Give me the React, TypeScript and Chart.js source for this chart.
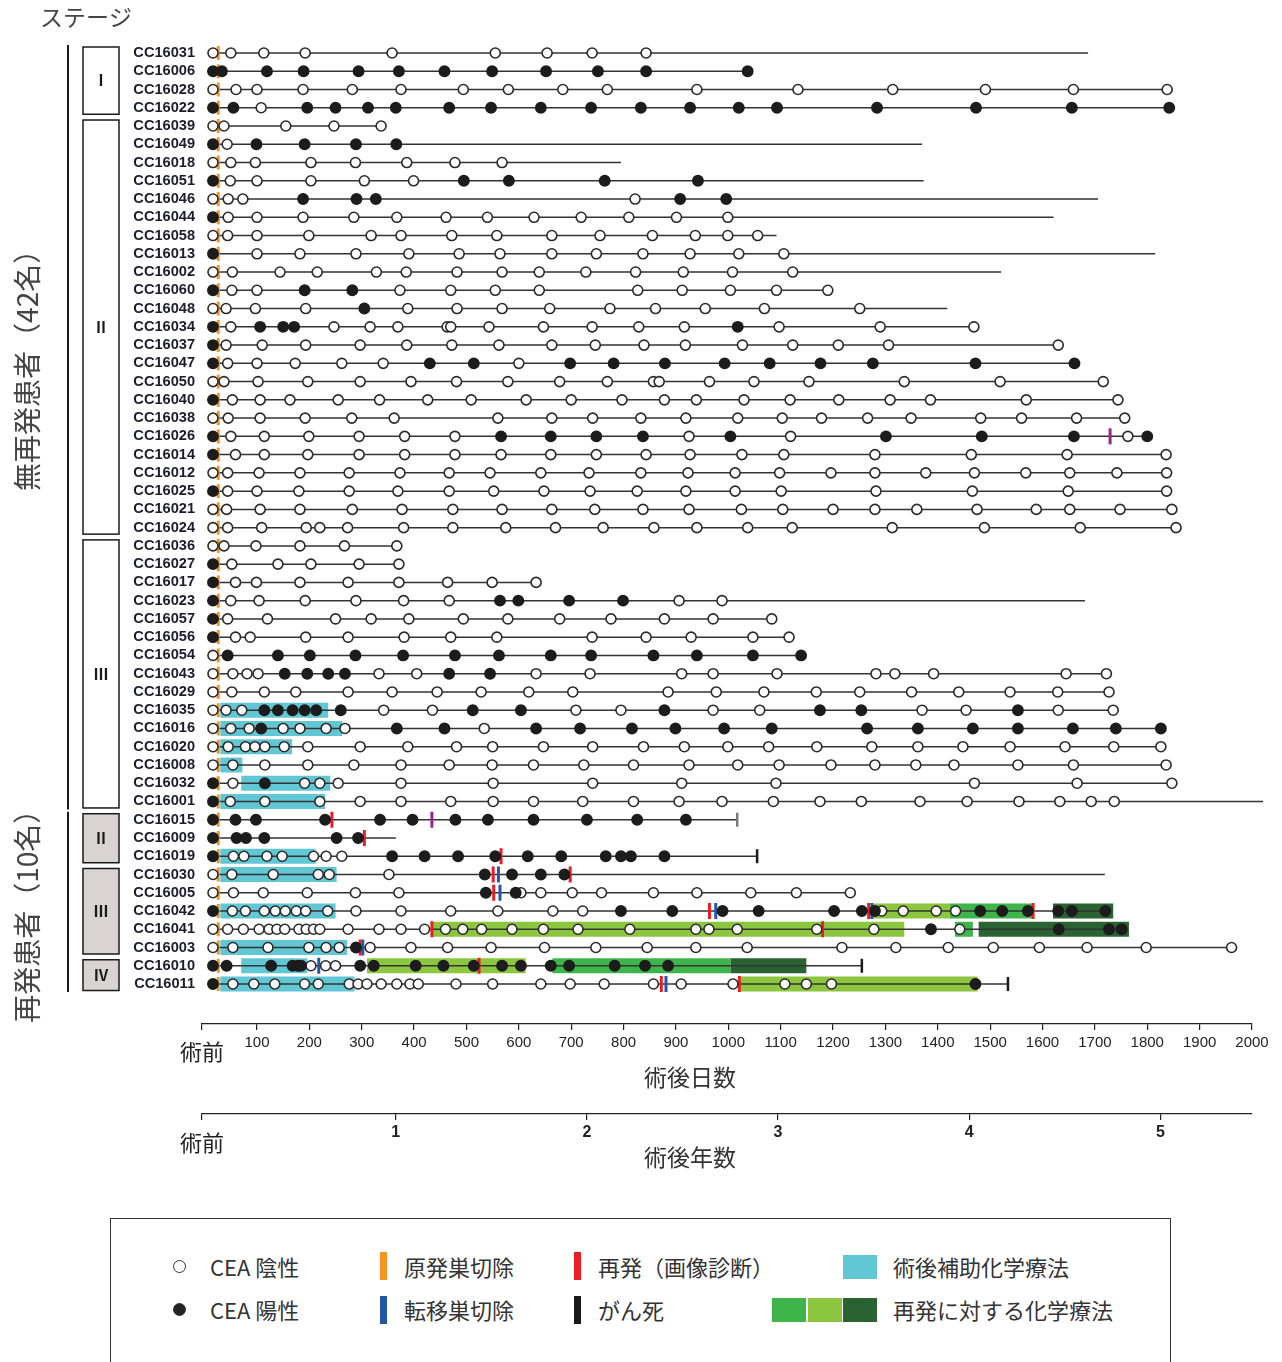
import React, { useEffect, useRef } from 'react';
import { Chart, registerables } from 'chart.js';

Chart.register(...registerables);

const CJK = "'Noto Sans CJK JP', 'Noto Sans', sans-serif";
const LATIN = "'Liberation Sans', Arial, sans-serif";

const patients = [
  'CC16031', 'CC16006', 'CC16028', 'CC16022', 'CC16039', 'CC16049', 'CC16018', 'CC16051', 'CC16046',
  'CC16044', 'CC16058', 'CC16013', 'CC16002', 'CC16060', 'CC16048', 'CC16034', 'CC16037', 'CC16047',
  'CC16050', 'CC16040', 'CC16038', 'CC16026', 'CC16014', 'CC16012', 'CC16025', 'CC16021', 'CC16024',
  'CC16036', 'CC16027', 'CC16017', 'CC16023', 'CC16057', 'CC16056', 'CC16054', 'CC16043', 'CC16029',
  'CC16035', 'CC16016', 'CC16020', 'CC16008', 'CC16032', 'CC16001',
  'CC16015', 'CC16009', 'CC16019', 'CC16030', 'CC16005', 'CC16042', 'CC16041', 'CC16003', 'CC16010', 'CC16011',
];

const preOpDay = 16;
const surgeryDay = 26;

const followUpEnd = [
  1687, 1037, 1838, 1842, 337, 1370, 795, 1373, 1706, 1621, 1092, 1815, 1521, 1190, 1418, 1469, 1630, 1661,
  1716, 1744, 1757, 1800, 1836, 1837, 1837, 1847, 1855, 367, 371, 633, 1681, 1083, 1116, 1139, 1722, 1727,
  1735, 1826, 1826, 1836, 1847, 2021, 1017, 365, 1055, 1719, 1233, 1720, 1751, 1961, 1255, 1534,
];

const ceaNegative: number[][] = [
  [16, 50, 113, 192, 358, 555, 654, 740, 843],
  [],
  [16, 60, 100, 188, 282, 375, 494, 580, 684, 769, 940, 1133, 1314, 1491, 1659, 1838],
  [108],
  [16, 37, 155, 247, 337],
  [43],
  [16, 50, 97, 203, 288, 386, 478, 568],
  [49, 100, 203, 305, 399],
  [16, 45, 73, 822],
  [45, 100, 188, 285, 367, 461, 540, 629, 719, 810, 901, 999],
  [16, 44, 100, 199, 318, 375, 472, 558, 663, 755, 855, 937, 999, 1056],
  [100, 182, 289, 390, 486, 564, 663, 748, 837, 927, 1020, 1106],
  [16, 53, 144, 215, 328, 385, 482, 568, 639, 728, 823, 914, 1008, 1123],
  [52, 100, 373, 470, 555, 639, 827, 912, 1004, 1092, 1190],
  [16, 41, 97, 193, 388, 482, 568, 659, 774, 861, 956, 1069, 1251],
  [50, 247, 316, 369, 463, 470, 543, 647, 740, 829, 916, 1097, 1290, 1469],
  [41, 110, 193, 297, 386, 472, 562, 663, 746, 839, 918, 1027, 1123, 1210, 1306, 1630],
  [44, 100, 173, 262, 341, 600],
  [16, 37, 102, 197, 297, 394, 481, 579, 678, 769, 857, 868, 964, 1049, 1154, 1336, 1519, 1716],
  [53, 106, 163, 255, 334, 426, 509, 614, 700, 797, 878, 939, 1030, 1118, 1211, 1309, 1386, 1569, 1744],
  [16, 45, 106, 192, 281, 362, 560, 663, 741, 833, 919, 1018, 1103, 1178, 1266, 1349, 1482, 1560, 1665, 1757],
  [50, 114, 199, 295, 382, 478, 925, 1119, 1763],
  [59, 114, 197, 295, 382, 478, 566, 661, 748, 843, 927, 1026, 1106, 1280, 1464, 1647, 1836],
  [16, 44, 104, 182, 276, 373, 467, 545, 642, 734, 833, 923, 1013, 1098, 1196, 1280, 1377, 1470, 1568, 1652, 1742, 1837],
  [44, 100, 180, 276, 369, 467, 552, 648, 736, 826, 919, 1013, 1101, 1282, 1466, 1649, 1837],
  [16, 42, 106, 182, 282, 377, 474, 568, 663, 745, 837, 925, 1025, 1104, 1200, 1280, 1360, 1475, 1588, 1652, 1748, 1847],
  [16, 44, 109, 194, 220, 273, 380, 474, 575, 670, 761, 858, 940, 1037, 1122, 1313, 1489, 1672, 1855],
  [16, 37, 98, 182, 267, 367],
  [52, 140, 203, 295, 371],
  [59, 99, 182, 274, 371, 464, 549, 633],
  [50, 104, 192, 289, 380, 467, 906, 988],
  [44, 120, 250, 318, 390, 494, 579, 678, 776, 878, 971, 1083],
  [59, 87, 193, 274, 381, 470, 558, 740, 843, 929, 1047, 1116],
  [16],
  [16, 54, 81, 102, 333, 405, 633, 736, 911, 971, 1093, 1282, 1318, 1392, 1645, 1722],
  [16, 52, 114, 174, 274, 358, 444, 528, 619, 703, 885, 977, 1068, 1168, 1251, 1350, 1440, 1538, 1629, 1727],
  [16, 41, 71, 342, 435, 709, 795, 971, 1060, 1370, 1454, 1630, 1735],
  [16, 50, 85, 150, 182, 232, 268, 534],
  [16, 45, 78, 96, 115, 152, 197, 297, 388, 481, 550, 647, 741, 838, 916, 999, 1077, 1169, 1274, 1362, 1448, 1538, 1643, 1736, 1826],
  [16, 54, 115, 197, 285, 375, 467, 549, 628, 724, 819, 925, 1018, 1097, 1196, 1280, 1358, 1431, 1553, 1659, 1836],
  [54, 191, 220, 255, 375, 551, 741, 911, 1091, 1470, 1666, 1847],
  [49, 115, 220, 297, 375, 470, 551, 628, 722, 819, 906, 988, 1086, 1175, 1254, 1366, 1456, 1555, 1633, 1693, 1737, 2021],
  [],
  [],
  [55, 75, 119, 148, 208, 232, 262],
  [16, 52, 131, 217, 238, 352],
  [16, 55, 112, 196, 288, 371, 604, 642, 702, 758, 857, 940, 1043, 1130, 1233],
  [53, 78, 114, 135, 154, 175, 193, 235, 289, 375, 470, 560, 665, 722, 1293, 1334, 1397, 1434],
  [16, 44, 74, 104, 123, 138, 153, 180, 194, 208, 220, 274, 333, 375, 420, 460, 493, 529, 587, 647, 713, 812, 938, 963, 1017, 1169, 1278, 1442],
  [16, 54, 121, 199, 232, 257, 316, 394, 464, 547, 649, 747, 845, 938, 1036, 1217, 1320, 1420, 1506, 1594, 1685, 1798, 1961],
  [203, 231, 250],
  [54, 94, 134, 191, 217, 276, 293, 310, 337, 367, 392, 408, 480, 550, 642, 698, 763, 857, 910, 1009, 1108, 1149, 1197],
];

const ceaPositive: number[][] = [
  [],
  [16, 33, 119, 189, 294, 371, 458, 549, 652, 751, 843, 1037],
  [],
  [16, 55, 196, 250, 312, 365, 467, 547, 642, 738, 833, 927, 1020, 1093, 1284, 1473, 1656, 1842],
  [],
  [16, 99, 191, 289, 366],
  [],
  [16, 495, 581, 764, 942],
  [188, 290, 327, 908, 996],
  [16],
  [],
  [16],
  [],
  [16, 191, 282],
  [305],
  [16, 106, 150, 171, 1018],
  [16],
  [16, 430, 514, 698, 781, 879, 993, 1079, 1176, 1276, 1472, 1661],
  [],
  [16],
  [],
  [16, 566, 661, 748, 837, 1004, 1301, 1484, 1660, 1800],
  [16],
  [],
  [16],
  [],
  [],
  [],
  [16],
  [16],
  [16, 564, 599, 696, 799],
  [16],
  [16],
  [44, 140, 201, 288, 379, 478, 562, 661, 738, 857, 940, 1047, 1139],
  [153, 196, 236, 268, 467, 545],
  [],
  [114, 140, 168, 191, 213, 260, 512, 604, 878, 1175, 1254, 1553],
  [108, 367, 458, 633, 717, 816, 899, 992, 1083, 1265, 1362, 1467, 1553, 1658, 1740, 1826],
  [],
  [],
  [16, 115],
  [16],
  [16, 59, 98, 230, 335, 397, 479, 541, 628, 730, 826, 919],
  [16, 61, 79, 114, 252, 293],
  [16, 358, 420, 484, 555, 617, 681, 766, 795, 814, 878],
  [535, 587, 642, 687],
  [537, 594],
  [16, 795, 893, 989, 1058, 1202, 1255, 1280, 1481, 1523, 1572, 1630, 1656, 1720],
  [1387, 1631, 1727, 1751],
  [289],
  [16, 42, 127, 168, 178, 184, 297, 323, 403, 456, 514, 568, 604, 661, 696, 783, 841, 885],
  [16, 1472],
];

// [row, startDay, endDay]
const adjuvantChemo: [number, number, number][] = [
  [36, 30, 236], [37, 30, 263], [38, 30, 167], [39, 30, 72], [40, 70, 240], [41, 30, 230],
  [44, 30, 212], [45, 30, 252], [47, 30, 250], [49, 30, 272], [50, 70, 196], [51, 30, 286],
];
const recurChemoLight: [number, number, number][] = [[47, 1273, 1422], [48, 436, 1336], [50, 310, 613], [51, 1022, 1476]];
const recurChemoMid: [number, number, number][] = [[47, 1422, 1582], [48, 1433, 1467], [50, 664, 1004]];
const recurChemoDark: [number, number, number][] = [[47, 1620, 1735], [48, 1478, 1765], [50, 1004, 1149]];

// [row, day]
const recurrenceMarks: [number, number][] = [
  [42, 243], [43, 305], [44, 566], [45, 551], [45, 698], [46, 552], [47, 964], [47, 1268], [47, 1582],
  [48, 434], [48, 1180], [49, 297], [50, 524], [51, 872], [51, 1021],
];
const metastasectomyMarks: [number, number][] = [[45, 561], [46, 564], [47, 976], [47, 1274], [49, 302], [50, 218], [51, 881]];
const otherMarks: [number, number][] = [[21, 1729], [42, 434]];
const deathMarks: [number, number][] = [[44, 1055], [50, 1255], [51, 1534]];
const censorMarks: [number, number][] = [[42, 1017]];

const dayTicks = [-5, 100, 200, 300, 400, 500, 600, 700, 800, 900, 1000, 1100, 1200, 1300, 1400, 1500, 1600, 1700, 1800, 1900, 2000];
const yearTicks = [-5, 365, 730, 1095, 1460, 1825];
const yearLabels = ['術前', '1', '2', '3', '4', '5'];

const stageBlocks = [
  { label: 'Ⅰ', from: 0, to: 3, recur: false },
  { label: 'Ⅱ', from: 4, to: 26, recur: false },
  { label: 'Ⅲ', from: 27, to: 41, recur: false },
  { label: 'Ⅱ', from: 42, to: 44, recur: true },
  { label: 'Ⅲ', from: 45, to: 49, recur: true },
  { label: 'Ⅳ', from: 50, to: 51, recur: true },
];
const groups = [
  { text: '無再発患者（42名）', from: 0, to: 41, labelRow: 17.0 },
  { text: '再発患者（10名）', from: 42, to: 51, labelRow: 46.9 },
];

const COLORS = {
  line: '#333333',
  open: '#ffffff',
  dotEdge: '#2a2a2a',
  filled: '#1c1c1c',
  orange: '#f7941d',
  red: '#ed1c24',
  blue: '#2257a8',
  purple: '#92278f',
  black: '#1a1a1a',
  gray: '#7a7a7a',
  cyan: '#62c7d4',
  light: '#8cc63f',
  mid: '#3db54a',
  dark: '#2a6332',
};

type P = { x: number; y: number };
const dotsFrom = (lists: number[][]): P[] => {
  const out: P[] = [];
  lists.forEach((days, row) => days.forEach((d) => out.push({ x: d, y: row })));
  return out;
};
const marksFrom = (list: [number, number][]): P[] => list.map(([row, d]) => ({ x: d, y: row }));
const segmentsFrom = (list: [number, number, number][]): P[] => {
  const out: P[] = [];
  list.forEach(([row, s, e]) => {
    out.push({ x: s, y: row }, { x: e, y: row }, { x: NaN, y: NaN });
  });
  return out;
};

const markerSet = (label: string, data: P[], color: string, radius: number, width: number) => ({
  label,
  data,
  showLine: false,
  pointStyle: 'line',
  pointRotation: 90,
  pointRadius: radius,
  pointBorderColor: color,
  pointBackgroundColor: color,
  pointBorderWidth: width,
  borderColor: color,
  clip: false,
});

const barSet = (label: string, list: [number, number, number][], color: string) => ({
  label,
  data: segmentsFrom(list),
  showLine: true,
  spanGaps: false,
  borderColor: color,
  borderWidth: 15,
  borderCapStyle: 'butt',
  pointRadius: 0,
  clip: false,
});

const decorPlugin = {
  id: 'decor',
  afterDraw(chart: any) {
    const ctx = chart.ctx as CanvasRenderingContext2D;
    const ys = chart.scales.y;
    ctx.save();
    ctx.fillStyle = '#444';
    ctx.font = `23px ${CJK}`;
    ctx.textAlign = 'left';
    ctx.textBaseline = 'middle';
    ctx.fillText('ステージ', 40, 17);

    // axis titles
    ctx.fillStyle = '#333';
    ctx.font = `23px ${CJK}`;
    ctx.textAlign = 'center';
    ctx.fillText('術後日数', 690, 1077);
    ctx.fillText('術後年数', 690, 1157);

    for (const b of stageBlocks) {
      const top = ys.getPixelForValue(b.from) - 6;
      const bottom = ys.getPixelForValue(b.to) + 6.5;
      ctx.fillStyle = b.recur ? '#d9d3d3' : '#ffffff';
      ctx.fillRect(83, top, 36, bottom - top);
      ctx.strokeStyle = '#1a1a1a';
      ctx.lineWidth = 1.5;
      ctx.strokeRect(83, top, 36, bottom - top);
      ctx.fillStyle = '#1a1a1a';
      ctx.font = `bold 15px ${CJK}`;
      ctx.textAlign = 'center';
      ctx.fillText(b.label, 101, (top + bottom) / 2);
    }

    for (const g of groups) {
      const top = ys.getPixelForValue(g.from) - 8;
      const bottom = ys.getPixelForValue(g.to) + 8;
      ctx.strokeStyle = '#1a1a1a';
      ctx.lineWidth = 2;
      ctx.beginPath();
      ctx.moveTo(68, top);
      ctx.lineTo(68, bottom);
      ctx.stroke();
      ctx.save();
      ctx.translate(27, ys.getPixelForValue(g.labelRow));
      ctx.rotate(-Math.PI / 2);
      ctx.fillStyle = '#444';
      ctx.font = `28px ${CJK}`;
      ctx.textAlign = 'center';
      ctx.textBaseline = 'middle';
      ctx.fillText(g.text, 0, 0);
      ctx.restore();
    }
    ctx.restore();
  },
};

export default function App() {
  const ref = useRef<HTMLCanvasElement | null>(null);

  useEffect(() => {
    if (!ref.current) return;
    Chart.defaults.font.family = LATIN;
    const rowLines: P[] = [];
    followUpEnd.forEach((end, row) => {
      rowLines.push({ x: preOpDay, y: row }, { x: end, y: row }, { x: NaN, y: NaN });
    });

    const chart = new Chart(ref.current, {
      type: 'scatter',
      data: {
        datasets: [
          {
            label: 'CEA 陽性',
            data: dotsFrom(ceaPositive),
            pointRadius: 5.2,
            pointBackgroundColor: COLORS.filled,
            pointBorderColor: COLORS.filled,
            pointBorderWidth: 1.5,
            showLine: false,
            clip: false,
          },
          {
            label: 'CEA 陰性',
            data: dotsFrom(ceaNegative),
            pointRadius: 5,
            pointBackgroundColor: COLORS.open,
            pointBorderColor: COLORS.dotEdge,
            pointBorderWidth: 1.6,
            showLine: false,
            clip: false,
          },
          markerSet('原発巣切除', patients.map((_, i) => ({ x: surgeryDay, y: i })), COLORS.orange, 7, 3),
          markerSet('再発（画像診断）', marksFrom(recurrenceMarks), COLORS.red, 8, 3),
          markerSet('転移巣切除', marksFrom(metastasectomyMarks), COLORS.blue, 8, 3),
          markerSet('other', marksFrom(otherMarks), COLORS.purple, 8, 3),
          markerSet('がん死', marksFrom(deathMarks), COLORS.black, 7, 2.5),
          markerSet('censor', marksFrom(censorMarks), COLORS.gray, 7, 2.5),
          {
            label: 'follow-up',
            data: rowLines,
            showLine: true,
            spanGaps: false,
            borderColor: COLORS.line,
            borderWidth: 1.5,
            pointRadius: 0,
            clip: false,
          },
          barSet('術後補助化学療法', adjuvantChemo, COLORS.cyan),
          barSet('再発化学療法1', recurChemoLight, COLORS.light),
          barSet('再発化学療法2', recurChemoMid, COLORS.mid),
          barSet('再発化学療法3', recurChemoDark, COLORS.dark),
        ] as any,
      },
      options: {
        animation: false,
        responsive: false,
        maintainAspectRatio: false,
        events: [],
        layout: { padding: { left: 0, right: 30, top: 45, bottom: 22 } },
        plugins: { legend: { display: false }, tooltip: { enabled: false } },
        scales: {
          x: {
            type: 'linear',
            position: 'bottom',
            weight: 0,
            min: -5,
            max: 2000,
            afterBuildTicks: (s: any) => {
              s.ticks = dayTicks.map((v) => ({ value: v }));
            },
            afterFit: (s: any) => {
              s.height = 90;
            },
            ticks: {
              autoSkip: false,
              maxRotation: 0,
              padding: 4,
              color: '#222',
              callback: (v: any) => (v === -5 ? '術前' : String(v)),
              font: (c: any) =>
                c.tick && c.tick.value === -5
                  ? { family: CJK, size: 22, lineHeight: 1.64 }
                  : { family: LATIN, size: 15, lineHeight: 1.2 },
            },
            grid: { display: true, drawOnChartArea: false, drawTicks: true, tickLength: 6, color: '#222', lineWidth: 1.2 },
            border: { display: true, color: '#222', width: 1.2 },
            title: { display: false },
          },
          x2: {
            type: 'linear',
            position: 'bottom',
            weight: 1,
            min: -5,
            max: 2000,
            afterBuildTicks: (s: any) => {
              s.ticks = yearTicks.map((v) => ({ value: v }));
            },
            afterFit: (s: any) => {
              s.height = 64;
            },
            ticks: {
              autoSkip: false,
              maxRotation: 0,
              padding: 4,
              color: '#222',
              callback: (v: any) => yearLabels[yearTicks.indexOf(v)] ?? '',
              font: (c: any) =>
                c.tick && c.tick.value === -5
                  ? { family: CJK, size: 22, lineHeight: 1.73 }
                  : { family: LATIN, size: 16, weight: 'bold', lineHeight: 1.125 },
            },
            grid: { display: true, drawOnChartArea: false, drawTicks: true, tickLength: 6, color: '#222', lineWidth: 1.2 },
            border: { display: true, color: '#222', width: 1.2 },
            title: { display: false },
          },
          y: {
            type: 'linear',
            position: 'left',
            reverse: true,
            min: -0.438,
            max: 53.19,
            afterBuildTicks: (s: any) => {
              s.ticks = patients.map((_, i) => ({ value: i }));
            },
            afterFit: (s: any) => {
              s.width = 202;
            },
            ticks: {
              autoSkip: false,
              padding: 7,
              color: '#1c1c30',
              font: { family: LATIN, size: 14.6, weight: 'bold' },
              callback: (v: any) => patients[v] ?? '',
            },
            grid: { display: false, drawTicks: false },
            border: { display: false },
          },
        },
      } as any,
      plugins: [decorPlugin],
    });
    return () => chart.destroy();
  }, []);

  const txt: React.CSSProperties = {
    position: 'absolute',
    fontFamily: CJK,
    fontSize: 22,
    color: '#333',
    lineHeight: '26px',
    whiteSpace: 'nowrap',
  };
  const bar = (left: number, top: number, color: string): React.CSSProperties => ({
    position: 'absolute',
    left,
    top,
    width: 7,
    height: 28,
    background: color,
  });
  const rect = (left: number, top: number, color: string): React.CSSProperties => ({
    position: 'absolute',
    left,
    top,
    width: 34,
    height: 24,
    background: color,
  });
  const circle = (top: number, filled: boolean): React.CSSProperties => ({
    position: 'absolute',
    left: 173,
    top,
    width: 11,
    height: 11,
    borderRadius: '50%',
    border: '1.5px solid #333',
    background: filled ? '#222' : '#fff',
  });

  return (
    <div style={{ position: 'absolute', left: 0, top: 0, width: 1282, height: 1362, background: '#fff', overflow: 'hidden' }}>
      <canvas ref={ref} width={1282} height={1200} style={{ position: 'absolute', left: 0, top: 0 }} />
      <div
        style={{
          position: 'absolute',
          left: 110,
          top: 1218,
          width: 1061,
          height: 170,
          border: '1.3px solid #333',
          boxSizing: 'border-box',
        }}
      />
      <div style={circle(1260, false)} />
      <div style={{ ...txt, left: 210, top: 1253 }}>CEA 陰性</div>
      <div style={circle(1303, true)} />
      <div style={{ ...txt, left: 210, top: 1296 }}>CEA 陽性</div>

      <div style={bar(380, 1252, COLORS.orange)} />
      <div style={{ ...txt, left: 404, top: 1253 }}>原発巣切除</div>
      <div style={bar(380, 1296, COLORS.blue)} />
      <div style={{ ...txt, left: 404, top: 1296 }}>転移巣切除</div>

      <div style={bar(574, 1252, COLORS.red)} />
      <div style={{ ...txt, left: 598, top: 1253 }}>再発（画像診断）</div>
      <div style={bar(574, 1296, COLORS.black)} />
      <div style={{ ...txt, left: 598, top: 1296 }}>がん死</div>

      <div style={rect(843, 1255, COLORS.cyan)} />
      <div style={{ ...txt, left: 893, top: 1253 }}>術後補助化学療法</div>
      <div style={rect(772, 1298, COLORS.mid)} />
      <div style={rect(808, 1298, COLORS.light)} />
      <div style={rect(843, 1298, COLORS.dark)} />
      <div style={{ ...txt, left: 893, top: 1296 }}>再発に対する化学療法</div>
    </div>
  );
}
